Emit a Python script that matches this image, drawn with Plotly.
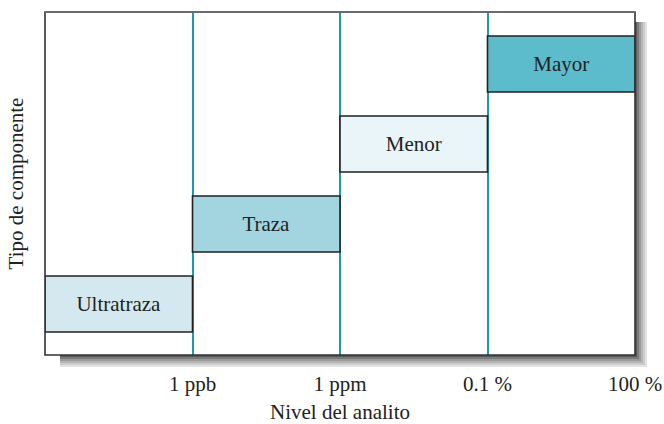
import plotly.graph_objects as go

# Data
categories = ["Ultratraza", "Traza", "Menor", "Mayor"]
level_start = [0, 1, 2, 3]      # log-scale decade blocks
level_end = [1, 2, 3, 4]
tick_positions = [1, 2, 3, 4]
tick_labels = ["1 ppb", "1 ppm", "0.1 %", "100 %"]
bar_colors = ["#d3e9ef", "#a3d5e0", "#e9f5f8", "#5cbccc"]

FONT = "Liberation Serif, Times New Roman, serif"
FS = 21

fig = go.Figure()
fig.add_trace(go.Bar(
    y=list(range(1, len(categories) + 1)),
    x=[e - s for s, e in zip(level_start, level_end)],
    base=level_start,
    orientation="h",
    width=0.7,
    marker=dict(color=bar_colors, line=dict(color="#222222", width=1.6)),
    text=categories,
    textposition="inside",
    insidetextanchor="middle",
    textfont=dict(family=FONT, size=FS, color="#222222"),
    hoverinfo="skip",
    showlegend=False,
))

W, H = 664, 424
ml, mr, mt, mb = 45, 29, 12, 69
pw, ph = W - ml - mr, H - mt - mb
dx, dy = 1.0 / pw, 1.0 / ph

shapes = []
# gradient shadow (right and bottom)
shades = ["#5a5a5a", "#7a7a7a", "#9a9a9a", "#b5b5b5", "#cdcdcd", "#e2e2e2"]
step = 2
for i, c in enumerate(shades):
    shapes.append(dict(type="rect", xref="paper", yref="paper",
                       x0=1 + i * step * dx, x1=1 + (i + 1) * step * dx,
                       y0=-(i + 1) * step * dy, y1=1 - 10 * dy,
                       line=dict(width=0), fillcolor=c, layer="below"))
    shapes.append(dict(type="rect", xref="paper", yref="paper",
                       x0=15 * dx, x1=1 + (i + 1) * step * dx,
                       y0=-(i + 1) * step * dy, y1=-i * step * dy,
                       line=dict(width=0), fillcolor=c, layer="below"))
# frame
shapes.append(dict(type="rect", xref="paper", yref="paper", x0=0, x1=1, y0=0, y1=1,
                   line=dict(color="#333333", width=1.6), layer="above"))
shapes.append(dict(type="line", xref="paper", yref="paper", x0=0, x1=1, y0=1, y1=1,
                   line=dict(color="#6a6a6a", width=2), layer="above"))

fig.update_layout(
    width=W, height=H,
    margin=dict(l=ml, r=mr, t=mt, b=mb, autoexpand=False),
    paper_bgcolor="white", plot_bgcolor="white",
    font=dict(family=FONT, size=FS, color="#222222"),
    shapes=shapes,
    xaxis=dict(range=[0, 4], tickvals=tick_positions, ticktext=tick_labels,
               showgrid=True, gridcolor="#149db3", gridwidth=1.5,
               zeroline=False, showline=False, ticks="",
               ticklabelstandoff=14, automargin=False,
               tickfont=dict(family=FONT, size=FS, color="#222222"),
               title=dict(text="Nivel del analito", standoff=12,
                          font=dict(family=FONT, size=FS, color="#222222"))),
    yaxis=dict(range=[0.3625, 4.65], showticklabels=False, showgrid=False,
               zeroline=False, showline=False, ticks="", automargin=False,
               title=dict(text="Tipo de componente", standoff=14,
                          font=dict(family=FONT, size=FS, color="#222222"))),
    bargap=0.3,
)

fig.write_html(
    "out.html",
    config={"displayModeBar": False},
    post_script="document.body.style.margin='0';document.body.style.overflow='hidden';",
)
